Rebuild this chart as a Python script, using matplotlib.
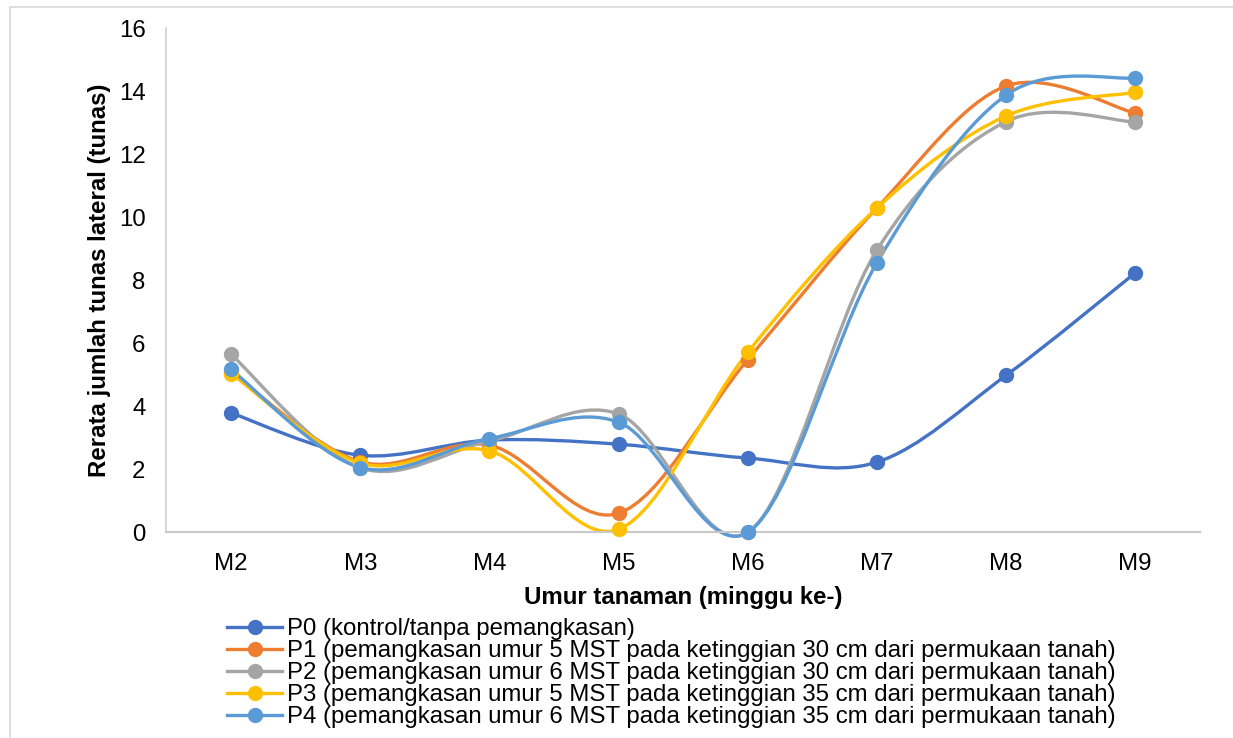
import numpy as np
import matplotlib
matplotlib.use("Agg")
import matplotlib.pyplot as plt
from matplotlib.path import Path
from matplotlib.patches import PathPatch, Rectangle
from matplotlib.lines import Line2D

plt.rcParams['font.family'] = ['Liberation Sans', 'DejaVu Sans']

# data
weeks = ["M2", "M3", "M4", "M5", "M6", "M7", "M8", "M9"]
p0 = [3.79, 2.45, 2.93, 2.80, 2.36, 2.23, 4.98, 8.23]
p1 = [5.10, 2.24, 2.77, 0.61, 5.48, 10.29, 14.16, 13.30]
p2 = [5.65, 2.05, 2.90, 3.76, 0.00, 8.95, 13.03, 13.02]
p3 = [5.04, 2.20, 2.59, 0.10, 5.71, 10.29, 13.21, 13.96]
p4 = [5.17, 2.06, 2.98, 3.50, 0.00, 8.55, 13.87, 14.42]

labels = [
    "P0 (kontrol/tanpa pemangkasan)",
    "P1 (pemangkasan umur 5 MST pada ketinggian 30 cm dari permukaan tanah)",
    "P2 (pemangkasan umur 6 MST pada ketinggian 30 cm dari permukaan tanah)",
    "P3 (pemangkasan umur 5 MST pada ketinggian 35 cm dari permukaan tanah)",
    "P4 (pemangkasan umur 6 MST pada ketinggian 35 cm dari permukaan tanah)",
]
colors = ["#4472C4", "#ED7D31", "#A5A5A5", "#FFC000", "#5B9BD5"]
series = [p0, p1, p2, p3, p4]

FS = 17.3


def smooth_path(x, y):
    # excel-like smoothed line: catmull-rom as cubic bezier segments
    x = np.asarray(x, float)
    y = np.asarray(y, float)
    n = len(x)
    verts = [(x[0], y[0])]
    codes = [Path.MOVETO]
    for i in range(n - 1):
        i0 = max(i - 1, 0)
        i3 = min(i + 2, n - 1)
        c1 = (x[i] + (x[i + 1] - x[i0]) / 6, y[i] + (y[i + 1] - y[i0]) / 6)
        c2 = (x[i + 1] - (x[i3] - x[i]) / 6, y[i + 1] - (y[i3] - y[i]) / 6)
        verts += [c1, c2, (x[i + 1], y[i + 1])]
        codes += [Path.CURVE4] * 3
    return Path(verts, codes)


fig = plt.figure(figsize=(12.33, 7.38), dpi=100)
ax = fig.add_axes([0.135, 0.2785, 0.838, 0.6835])

xs = np.arange(len(weeks))
handles = []
for vals, c, lab in zip(series, colors, labels):
    ax.add_patch(PathPatch(smooth_path(xs, vals), facecolor="none",
                           edgecolor=c, lw=2.4, zorder=2, clip_on=False))
    ax.plot(xs, vals, "o", color=c, ms=10, zorder=3, clip_on=False)
    handles.append(Line2D([], [], color=c, lw=2.4, marker="o", ms=10))

ax.set_xlim(-0.5, len(weeks) - 0.5)
ax.set_ylim(0, 16)
ax.set_yticks(range(0, 17, 2))
ax.set_xticks(xs)
ax.set_xticklabels(weeks)
ax.tick_params(length=0, labelsize=FS)
ax.tick_params(axis="y", pad=15)
ax.tick_params(axis="x", pad=15)
for s in ["top", "right"]:
    ax.spines[s].set_visible(False)
ax.spines["left"].set_color("#D0D0D0")
ax.spines["bottom"].set_color("#C8C8C8")
ax.spines["left"].set_linewidth(1.2)
ax.spines["bottom"].set_linewidth(1.5)

ax.set_xlabel("Umur tanaman (minggu ke-)", fontsize=FS, fontweight="bold", labelpad=8)
ax.set_ylabel("Rerata jumlah tunas lateral (tunas)", fontsize=FS, fontweight="bold", labelpad=6)

fig.legend(handles, labels, loc="upper left", bbox_to_anchor=(227 / 1233, 1 - 618 / 738),
           frameon=False, fontsize=FS, handlelength=2.3, handletextpad=0.2,
           labelspacing=0.0, borderpad=0, borderaxespad=0)

fig.add_artist(Rectangle((10 / 1233, -0.1), 1.2, 1.1 - 7 / 738, transform=fig.transFigure,
                         fill=False, edgecolor="#D9D9D9", lw=1.2))

fig.savefig("out.png", dpi=100)
